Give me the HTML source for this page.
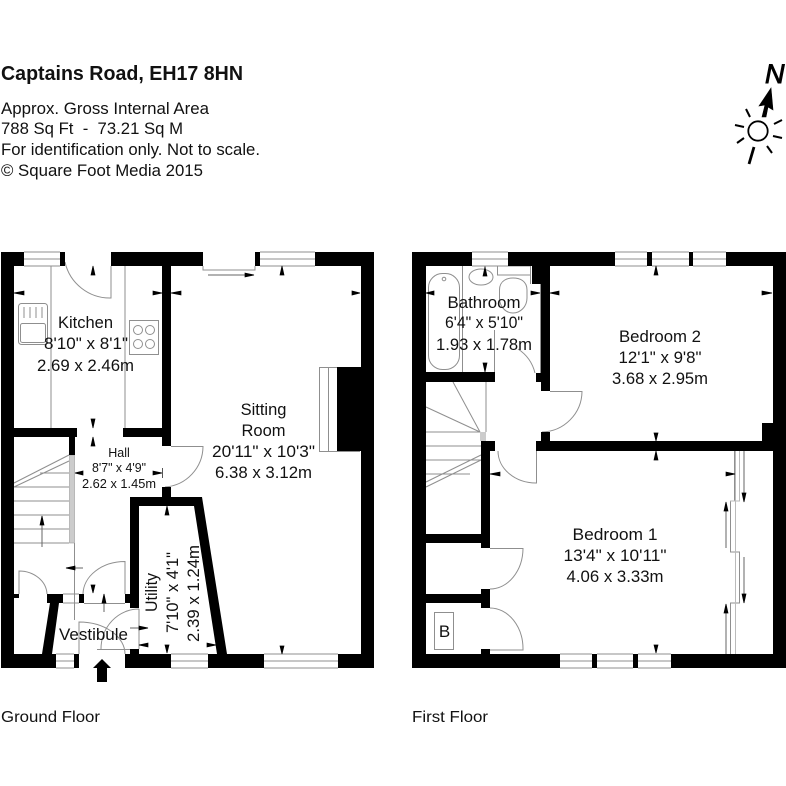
<!DOCTYPE html>
<html><head><meta charset="utf-8"><style>
html,body{margin:0;padding:0;background:#fff}
svg{display:block}
text{font-family:"Liberation Sans",sans-serif;fill:#111}
.g{fill:none;stroke:#8f8f8f;stroke-width:1}
.d{fill:none;stroke:#666;stroke-width:1}
.h{fill:#000;stroke:#000;stroke-width:.7}
</style></head><body>
<svg width="786" height="786" viewBox="0 0 786 786" xmlns="http://www.w3.org/2000/svg">
<rect width="786" height="786" fill="#fff"/>
<text x="1" y="80" font-size="20" font-weight="bold" textLength="242" lengthAdjust="spacingAndGlyphs" fill="#111">Captains Road, EH17 8HN</text>
<text x="1" y="114" font-size="17" textLength="208" lengthAdjust="spacingAndGlyphs">Approx. Gross Internal Area</text>
<text x="1" y="134" font-size="17" textLength="182" lengthAdjust="spacingAndGlyphs" xml:space="preserve">788 Sq Ft  -  73.21 Sq M</text>
<text x="1" y="155" font-size="17" textLength="259" lengthAdjust="spacingAndGlyphs">For identification only. Not to scale.</text>
<text x="1" y="176" font-size="17" textLength="202" lengthAdjust="spacingAndGlyphs">© Square Foot Media 2015</text>

<!-- compass -->
<text x="765" y="83" font-size="27" font-style="italic" style="fill:#000;stroke:#000;stroke-width:.9">N</text>
<polygon points="771,88 759,106 765,105 762,117 766,117 768,107 773,110" fill="#000" stroke="#000" stroke-width=".6"/>
<circle cx="758" cy="131" r="9.700" fill="none" stroke="#000" stroke-width="1.800"/>
<g stroke="#000" stroke-width="2" fill="none">
<path d="M746,109L750,117M735,125L744,127M737,143L744,138"/>
<path d="M782,120L774,124M782,138L773,136M772,153L767,146"/>
<path d="M754,147L749,164" stroke-width="2.800"/>
</g>

<!-- GROUND FLOOR light lines -->
<g class="g">
<path d="M51,266V428M125,266V428"/>
<path d="M24,252H60M24,259H60M24,266H60"/>
<path d="M171,654H208M171,661H208M171,668H208M264,654H338M264,661H338M264,668H338"/>
<path d="M56,654H74M56,661H74M56,668H74"/>
<path d="M260,252H315M260,259H315M260,266H315"/>
<path d="M203,266V270H255V266"/>
<path d="M65,262A46,46 0 0 0 111,298V266"/>
<rect x="18.500" y="303.500" width="29" height="41" rx="3"/>
<rect x="20.500" y="323.500" width="25" height="19" rx="2"/>
<path d="M24,307V318M30,307V318M36,307V318M42,307V318"/>
<rect x="129.500" y="320.500" width="29" height="34"/>
<circle cx="138" cy="330" r="4.500"/><circle cx="150" cy="330" r="4.500"/><circle cx="138" cy="344" r="4.500"/><circle cx="150" cy="344" r="4.500"/>
<path d="M319.500,451V367.500H360M328.500,367V451M319,451.500H337"/>
<path d="M337,451.500H360"/>
<path d="M171,446.500H203A41,41 0 0 1 165,487"/>
<path d="M74.500,543V620"/>
<path d="M14,487H69M14,501H69M14,515H69M14,529H69M14,543H69M40,473H69M14,483L69,455M14,487L69,461"/>
<path d="M19,594V571A28,24 0 0 1 47,594"/>
<path d="M125,594V561.500A42,33 0 0 0 83,594"/>
<path d="M63,594H79M63,603H79M84,603.500H125"/>
<path d="M139,609A38,40 0 0 0 101,649M97,649.500H139M139,609V649"/>
<path d="M79,654V622A46,32 0 0 1 125,654"/>
</g>
<rect x="69.500" y="455" width="5" height="88" fill="#ccc" stroke="#999" stroke-width=".6"/>

<!-- GROUND FLOOR walls -->
<g fill="#000">
<rect x="1" y="252" width="13" height="416"/>
<rect x="1" y="252" width="23" height="14"/>
<rect x="60" y="252" width="5" height="14"/>
<rect x="111" y="252" width="92" height="14"/>
<rect x="255" y="252" width="5" height="14"/>
<rect x="315" y="252" width="59" height="14"/>
<rect x="361" y="252" width="13" height="416"/>
<rect x="162" y="266" width="9" height="180"/>
<rect x="14" y="428" width="63" height="9"/>
<rect x="123" y="428" width="39" height="9"/>
<rect x="69" y="437" width="6" height="18"/>
<rect x="162" y="487" width="9" height="10"/>
<path d="M130,497H202L227,654H217L194,506H139V608H130Z"/>
<rect x="1" y="654" width="55" height="14"/>
<rect x="74" y="654" width="5" height="14"/>
<rect x="125" y="654" width="46" height="14"/>
<rect x="208" y="654" width="56" height="14"/>
<rect x="338" y="654" width="36" height="14"/>
<rect x="14" y="594" width="5" height="4"/>
<rect x="47" y="594" width="16" height="9"/>
<path d="M50,603H59L52,654H42Z"/>
<rect x="79" y="594" width="5" height="9"/>
<rect x="125" y="594" width="5" height="9"/>
<rect x="130" y="649" width="9" height="5"/>
<rect x="337" y="367" width="24" height="84"/>
<!-- entrance arrow -->
<polygon points="102,659 111,668 107,668 107,682 97,682 97,668 93,668"/>
</g>
<g class="d">
<path d="M42,547V516M66,568H83M104,612V594M208,275H253M130,628H148"/>
</g>
<!-- heads ground -->
<g class="h">
<polygon points="14,293 24,291 24,295"/>
<polygon points="162,293 153,291 153,295"/>
<polygon points="171,293 181,291 181,295"/>
<polygon points="360,293 352,291 352,295"/>
<polygon points="93,266 91,275 95,275"/>
<polygon points="93,428 91,419 95,419"/>
<polygon points="93,437 91,446 95,446"/>
<polygon points="75,473 83,471 83,475"/>
<polygon points="162,473 153,471 153,475"/>
<polygon points="167,506 165,515 169,515"/>
<polygon points="42,516 40,525 44,525"/>
<polygon points="66,568 75,566 75,570"/>
<polygon points="93,593 91,585 95,585"/>
<polygon points="104,594 102,603 106,603"/>
<polygon points="148,628 139,626 139,630"/>
<polygon points="139,645 148,643 148,647"/>
<polygon points="216,645 207,643 207,647"/>
<polygon points="167,653 165,645 169,645"/>
<polygon points="282,654 280,646 284,646"/>
<polygon points="282,266 280,275 284,275"/>
<polygon points="254,275 245,273 245,277"/>
</g>
<path d="M162.500,468V478" stroke="#555" fill="none"/>

<!-- FIRST FLOOR light lines -->
<g class="g">
<path d="M472,252H508M472,259H508M472,266H508"/>
<path d="M615,252H647M615,259H647M615,266H647M652,252H689M652,259H689M652,266H689M693,252H726M693,259H726M693,266H726"/>
<path d="M560,654H592M560,661H592M560,668H592M597,654H633M597,661H633M597,668H633M638,654H671M638,661H671M638,668H671"/>
<rect x="428.500" y="273.500" width="31" height="96" rx="14"/>
<circle cx="444" cy="279" r="1.800"/>
<path d="M462.500,266V372"/>
<ellipse cx="481" cy="277" rx="12" ry="8"/>
<rect x="497.500" y="266" width="33" height="9"/>
<path d="M499.500,290C499.500,280 508,278 513,278C520,278 527,281 527,290V298C527,307 520,313 513,313C506,313 499.500,307 499.500,298Z"/>
<path d="M530.500,266V284M540.500,284V373"/>
<path d="M494.500,372V330M518,349A40,40 0 0 1 535,373"/>
<path d="M486,372V432"/>
<path d="M550,391.500H582A41,41 0 0 1 542,432"/>
<path d="M536.500,451V483A38,32 0 0 1 498,451"/>
<path d="M453,382L480,432M426,407L480,432M426,432H480M426,446H481M426,460H481M426,474H470M426,482L481,455M426,487L481,460"/>
<path d="M490,548.500H523A33,41 0 0 1 490,589"/>
<path d="M490,608A33,41 0 0 1 523,650H490"/>
<rect x="434.500" y="612.500" width="19" height="37"/>
<path d="M734.500,451V501H730.500V552H739.500V603H730.500V654"/>
<path d="M739.500,451V501H730M735.500,451V654" stroke="#bbb"/>
</g>
<rect x="480" y="432" width="6" height="9" fill="#ccc"/>
<!-- FIRST FLOOR walls -->
<g fill="#000">
<rect x="412" y="252" width="14" height="416"/>
<rect x="412" y="252" width="60" height="14"/>
<rect x="508" y="252" width="107" height="14"/>
<rect x="647" y="252" width="5" height="14"/>
<rect x="689" y="252" width="4" height="14"/>
<rect x="726" y="252" width="47" height="14"/>
<rect x="773" y="252" width="13" height="416" />
<rect x="532" y="266" width="18" height="18"/>
<rect x="541" y="284" width="9" height="107"/>
<rect x="536" y="373" width="5" height="9"/>
<rect x="426" y="372" width="69" height="10"/>
<rect x="541" y="432" width="9" height="9"/>
<rect x="536" y="441" width="237" height="10"/>
<rect x="762" y="423" width="11" height="18"/>
<rect x="481" y="441" width="14" height="10"/>
<rect x="481" y="451" width="9" height="97"/>
<rect x="426" y="534" width="55" height="9"/>
<rect x="481" y="589" width="9" height="19"/>
<rect x="426" y="594" width="55" height="9"/>
<rect x="481" y="649" width="9" height="5"/>
<rect x="412" y="654" width="148" height="14"/>
<rect x="592" y="654" width="5" height="14"/>
<rect x="633" y="654" width="5" height="14"/>
<rect x="671" y="654" width="115" height="14"/>
</g>
<g class="d">
<path d="M744,451V500M744,557V603M726,548V503M726,654V605M485,266V275"/>
</g>
<g class="h">
<polygon points="426,293 434,291 434,295"/>
<polygon points="540,293 531,291 531,295"/>
<polygon points="550,293 559,291 559,295"/>
<polygon points="772,293 762,291 762,295"/>
<polygon points="485,267 483,276 487,276"/>
<polygon points="485,372 483,363 487,363"/>
<polygon points="490,474 500,472 500,476"/>
<polygon points="656,266 654,275 658,275"/>
<polygon points="656,441 654,433 658,433"/>
<polygon points="656,451 654,460 658,460"/>
<polygon points="735,474 726,472 726,476"/>
<polygon points="744,502 742,493 746,493"/>
<polygon points="744,603 742,594 746,594"/>
<polygon points="726,502 724,511 728,511"/>
<polygon points="726,604 724,613 728,613"/>
<polygon points="656,653 654,645 658,645"/>
</g>

<!-- LABELS -->
<g font-size="16.500" text-anchor="middle">
<text x="85.500" y="328" >Kitchen</text>
<text x="86" y="349" textLength="84" lengthAdjust="spacingAndGlyphs">8'10" x 8'1"</text>
<text x="85.500" y="371" textLength="97" lengthAdjust="spacingAndGlyphs">2.69 x 2.46m</text>
<text x="263.500" y="415">Sitting</text>
<text x="263.500" y="436">Room</text>
<text x="263.500" y="457" textLength="103" lengthAdjust="spacingAndGlyphs">20'11" x 10'3"</text>
<text x="263.500" y="478" textLength="97" lengthAdjust="spacingAndGlyphs">6.38 x 3.12m</text>
<text x="484" y="308" textLength="73" lengthAdjust="spacingAndGlyphs">Bathroom</text>
<text x="484" y="328" textLength="78" lengthAdjust="spacingAndGlyphs">6'4" x 5'10"</text>
<text x="484" y="350" textLength="96" lengthAdjust="spacingAndGlyphs">1.93 x 1.78m</text>
<text x="660" y="342" textLength="82" lengthAdjust="spacingAndGlyphs">Bedroom 2</text>
<text x="660" y="363" textLength="83" lengthAdjust="spacingAndGlyphs">12'1" x 9'8"</text>
<text x="660" y="384" textLength="96" lengthAdjust="spacingAndGlyphs">3.68 x 2.95m</text>
<text x="615" y="540" textLength="85" lengthAdjust="spacingAndGlyphs">Bedroom 1</text>
<text x="615" y="561" textLength="103" lengthAdjust="spacingAndGlyphs">13'4" x 10'11"</text>
<text x="615" y="582" textLength="97" lengthAdjust="spacingAndGlyphs">4.06 x 3.33m</text>
<text x="93.500" y="640" font-size="17" textLength="69" lengthAdjust="spacingAndGlyphs">Vestibule</text>
<text x="444.500" y="637" font-size="17">B</text>
</g>
<g font-size="12.500" text-anchor="middle">
<text x="119" y="457">Hall</text>
<text x="119" y="472" textLength="54" lengthAdjust="spacingAndGlyphs">8'7" x 4'9"</text>
<text x="119" y="488" textLength="74" lengthAdjust="spacingAndGlyphs">2.62 x 1.45m</text>
</g>
<g font-size="16.500" text-anchor="middle">
<text transform="translate(157 592.500) rotate(-90)" textLength="39" lengthAdjust="spacingAndGlyphs">Utility</text>
<text transform="translate(178 592.500) rotate(-90)" textLength="81" lengthAdjust="spacingAndGlyphs">7'10" x 4'1"</text>
<text transform="translate(199 593.500) rotate(-90)" textLength="97" lengthAdjust="spacingAndGlyphs">2.39 x 1.24m</text>
</g>
<text x="1" y="722" font-size="16" textLength="99" lengthAdjust="spacingAndGlyphs">Ground Floor</text>
<text x="412" y="722" font-size="16" textLength="76" lengthAdjust="spacingAndGlyphs">First Floor</text>
</svg>
</body></html>
